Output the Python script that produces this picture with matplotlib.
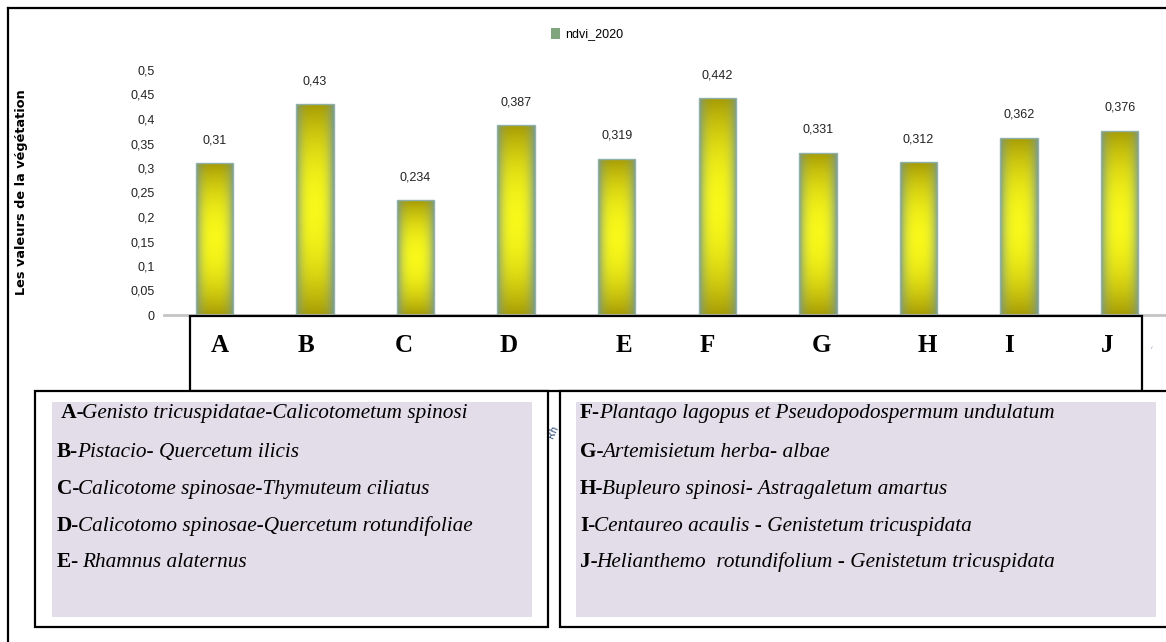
import numpy as np
import matplotlib
matplotlib.use("Agg")
from matplotlib import pyplot as plt
from matplotlib import font_manager
from matplotlib.patches import Rectangle, Patch
from matplotlib.lines import Line2D
from matplotlib.text import Annotation

# NDVI 2020 par groupement végétal
groupes = ['A', 'B', 'C', 'D', 'E', 'F', 'G', 'H', 'I', 'J']
ndvi_2020 = [0.31, 0.43, 0.234, 0.387, 0.319, 0.442, 0.331, 0.312, 0.362, 0.376]
graduations = [0, 0.05, 0.1, 0.15, 0.2, 0.25, 0.3, 0.35, 0.4, 0.45, 0.5]

noms_gauche = [
    (" A-", "Genisto tricuspidatae-Calicotometum spinosi"),
    ("B-", "Pistacio- Quercetum ilicis"),
    ("C-", "Calicotome spinosae-Thymuteum ciliatus"),
    ("D-", "Calicotomo spinosae-Quercetum rotundifoliae"),
    ("E- ", "Rhamnus alaternus"),
]
noms_droite = [
    ("F-", "Plantago lagopus et Pseudopodospermum undulatum"),
    ("G-", "Artemisietum herba- albae"),
    ("H-", "Bupleuro spinosi- Astragaletum amartus"),
    ("I-", "Centaureo acaulis - Genistetum tricuspidata"),
    ("J-", "Helianthemo  rotundifolium - Genistetum tricuspidata"),
]

# position (px) des lettres dans le cadre sous l'axe
x_lettres = [220, 306, 404, 509, 624, 707, 821, 927, 1009, 1107]

W, H = 1166, 642


def fx(px):
    return px / W


def fy(py):
    return 1 - py / H


def virgule(v):
    return f"{v:g}".replace('.', ',')


polices = {f.name for f in font_manager.fontManager.ttflist}
if 'Liberation Sans Narrow' in polices:
    etroite, t_petit = 'Liberation Sans Narrow', 10.5
else:
    etroite, t_petit = 'Liberation Sans', 9
serif = 'Liberation Serif'


def degrade(ny=200, nx=60):
    v = np.linspace(-1, 1, ny)[:, None]
    u = np.linspace(-1, 1, nx)[None, :]
    a = np.abs(v) ** 2.0
    b = np.abs(u) ** 3
    centre = np.array([0.97, 0.97, 0.10])
    olive = np.array([0.65, 0.61, 0.02])
    bord = np.array([0.47, 0.60, 0.56])
    base = centre + (olive - centre) * a[..., None]
    return base + (bord - base) * (0.9 * b)[..., None]


fig = plt.figure(figsize=(W / 100, H / 100), dpi=100)
ax = fig.add_axes([fx(164), fy(315), (W - 164) / W, (315 - 70) / H])

x = np.arange(len(groupes))
barres = ax.bar(x, ndvi_2020, width=0.37, color='none',
                edgecolor='#8fb1a9', linewidth=1, zorder=3)
img = degrade()
for b in barres:
    x0, y0 = b.get_x(), b.get_y()
    im = ax.imshow(img, extent=[x0, x0 + b.get_width(), y0, y0 + b.get_height()],
                   aspect='auto', interpolation='bicubic', zorder=2)
    im.set_clip_path(b)

for xi, v in zip(x, ndvi_2020):
    ax.annotate(virgule(v), (xi, v), xytext=(0, 16.5), textcoords='offset points',
                ha='center', va='center', fontsize=t_petit, family=etroite,
                color='#222222')

ax.set_xlim(-0.5, -0.5 + (W - 164) / 100.6)
ax.set_ylim(0, 0.5)
ax.set_yticks(graduations)
ax.set_yticklabels([virgule(g) for g in graduations], family=etroite,
                   fontsize=t_petit, color='#222222')
ax.tick_params(axis='y', length=0, pad=6.5)
ax.set_xticks([])
for s in ['top', 'right', 'left']:
    ax.spines[s].set_visible(False)
ax.spines['bottom'].set_color('#c4c4c4')
ax.spines['bottom'].set_linewidth(2)
ax.patch.set_visible(False)

ax.legend(handles=[Patch(facecolor='#80a67e', label='ndvi_2020')], loc='center',
          bbox_to_anchor=(fx(587), fy(34)), bbox_transform=fig.transFigure,
          frameon=False, handlelength=0.75, handleheight=1.0, handletextpad=0.35,
          prop={'family': etroite, 'size': t_petit})

fig.text(fx(22), fy(192), 'Les valeurs de la végétation', rotation=90,
         ha='center', va='center', fontsize=9.3, fontweight='bold')

# cadre général
lw = 1.6
fig.add_artist(Line2D([fx(8), fx(8)], [fy(8), fy(642)], color='black', lw=lw))
fig.add_artist(Line2D([fx(8), fx(1166)], [fy(8), fy(8)], color='black', lw=lw))

# restes de texte visibles entre les cadres
fig.text(fx(553), fy(432), 'Rh', rotation=65, fontsize=7, color='#2a4a7a',
         ha='center', va='center', zorder=4)
fig.text(fx(1150), fy(345), '..', rotation=60, fontsize=6, color='#5577aa',
         ha='center', va='center', zorder=4)

# cadre des lettres sous l'axe
fig.add_artist(Rectangle((fx(190), fy(391)), (1142 - 190) / W, (391 - 316) / H,
                         facecolor='white', edgecolor='black', lw=lw, zorder=5))
for xl, g in zip(x_lettres, groupes):
    fig.text(fx(xl), fy(345), g, ha='center', va='center', family=serif,
             fontweight='bold', fontsize=18, zorder=6)

# cadres de la légende des groupements
fig.add_artist(Rectangle((fx(35), fy(627)), (548 - 35) / W, (627 - 391) / H,
                         facecolor='white', edgecolor='black', lw=lw, zorder=5))
fig.add_artist(Rectangle((fx(560), fy(627)), (1175 - 560) / W, (627 - 391) / H,
                         facecolor='white', edgecolor='black', lw=lw, zorder=5))
fig.add_artist(Rectangle((fx(52), fy(617)), (532 - 52) / W, (617 - 402) / H,
                         facecolor='#e2dde9', edgecolor='none', zorder=6))
fig.add_artist(Rectangle((fx(576), fy(617)), (1156 - 576) / W, (617 - 402) / H,
                         facecolor='#e2dde9', edgecolor='none', zorder=6))

y_lignes = [413, 452, 489, 526, 562]
for x_debut, noms in [(57, noms_gauche), (580, noms_droite)]:
    for yl, (code, nom) in zip(y_lignes, noms):
        t = fig.text(fx(x_debut), fy(yl), code, ha='left', va='center',
                     family=serif, fontweight='bold', fontsize=15.3, zorder=7)
        suite = Annotation(nom, xy=(1, 0), xycoords=t, xytext=(-1, 0),
                           textcoords='offset points', ha='left', va='bottom',
                           family=serif, style='italic', fontsize=15.3, zorder=7,
                           annotation_clip=False)
        fig.add_artist(suite)

fig.savefig('out.png', dpi=100)
